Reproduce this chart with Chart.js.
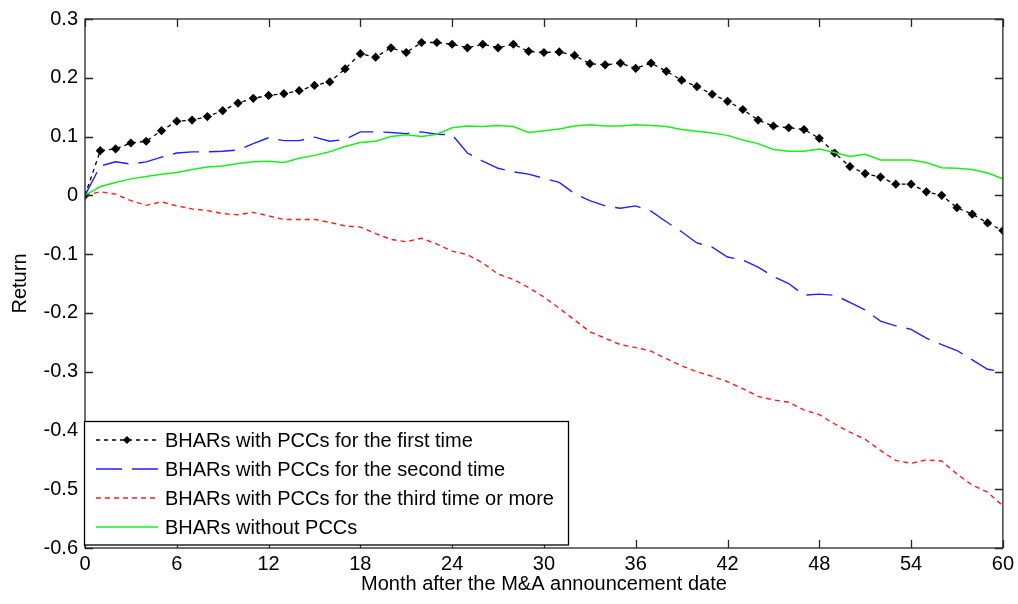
<!DOCTYPE html>
<html>
<head>
<meta charset="utf-8">
<script src="https://cdn.jsdelivr.net/npm/chart.js@4.4.1/dist/chart.umd.min.js"></script>
<style>
html,body{margin:0;padding:0;background:#fff;}
#wrap{width:1018px;height:604px;}
</style>
</head>
<body>
<div id="wrap"><canvas id="c" width="1018" height="604"></canvas></div>
<script>
const months = Array.from({length: 61}, (_, i) => i);
const xTicks = [0, 6, 12, 18, 24, 30, 36, 42, 48, 54, 60];
const yTicks = [0.3, 0.2, 0.1, 0, -0.1, -0.2, -0.3, -0.4, -0.5, -0.6];

const seriesNames = [
  "BHARs with PCCs for the first time",
  "BHARs with PCCs for the second time",
  "BHARs with PCCs for the third time or more",
  "BHARs without PCCs"
];

const firstTime = [0, 0.076, 0.079, 0.089, 0.092, 0.110, 0.126, 0.128, 0.134, 0.144, 0.157,
  0.165, 0.170, 0.173, 0.178, 0.187, 0.193, 0.215, 0.241, 0.235, 0.251,
  0.243, 0.260, 0.260, 0.257, 0.251, 0.257, 0.251, 0.257, 0.245, 0.243,
  0.244, 0.238, 0.224, 0.222, 0.225, 0.216, 0.225, 0.211, 0.196, 0.185,
  0.172, 0.160, 0.146, 0.128, 0.118, 0.115, 0.112, 0.097, 0.072, 0.049,
  0.037, 0.031, 0.019, 0.019, 0.006, 0.000, -0.021, -0.032, -0.047, -0.060];

const secondTime = [0, 0.050, 0.057, 0.053, 0.057, 0.065, 0.072, 0.074, 0.074, 0.075, 0.077,
  0.088, 0.098, 0.093, 0.093, 0.099, 0.092, 0.095, 0.108, 0.108, 0.107,
  0.105, 0.108, 0.104, 0.103, 0.072, 0.058, 0.046, 0.040, 0.036, 0.029,
  0.022, 0.003, -0.009, -0.018, -0.022, -0.018, -0.027, -0.045, -0.062, -0.081,
  -0.088, -0.105, -0.110, -0.122, -0.138, -0.150, -0.170, -0.168, -0.170, -0.182,
  -0.195, -0.214, -0.222, -0.228, -0.243, -0.254, -0.264, -0.280, -0.296, -0.300];

const thirdTime = [0, 0.006, 0.002, -0.009, -0.017, -0.011, -0.018, -0.023, -0.026, -0.031, -0.033,
  -0.029, -0.035, -0.041, -0.041, -0.041, -0.046, -0.052, -0.054, -0.065, -0.075,
  -0.079, -0.073, -0.083, -0.095, -0.101, -0.115, -0.134, -0.143, -0.157, -0.173,
  -0.192, -0.212, -0.232, -0.243, -0.254, -0.259, -0.265, -0.278, -0.290, -0.300,
  -0.308, -0.317, -0.329, -0.342, -0.348, -0.352, -0.365, -0.373, -0.389, -0.403,
  -0.415, -0.434, -0.451, -0.456, -0.450, -0.452, -0.474, -0.493, -0.505, -0.528];

const withoutPCC = [0, 0.015, 0.022, 0.028, 0.032, 0.036, 0.039, 0.044, 0.048, 0.050, 0.054,
  0.057, 0.058, 0.056, 0.063, 0.068, 0.074, 0.083, 0.090, 0.092, 0.100,
  0.103, 0.100, 0.104, 0.115, 0.118, 0.117, 0.119, 0.117, 0.107, 0.110,
  0.113, 0.118, 0.120, 0.118, 0.118, 0.120, 0.119, 0.117, 0.112, 0.109,
  0.106, 0.102, 0.094, 0.088, 0.078, 0.075, 0.075, 0.079, 0.073, 0.066,
  0.070, 0.060, 0.060, 0.060, 0.056, 0.047, 0.046, 0.044, 0.038, 0.028];

const FONT = "'Liberation Sans', Arial, sans-serif";
const toPts = arr => months.map((m, i) => ({x: m, y: arr[i]}));

const styles = [
  {color: '#000000', dash: [4, 4], width: 1.3, marker: true},
  {color: '#1f1fff', dash: [26, 10], width: 1.4, marker: false},
  {color: '#ff1a1a', dash: [5, 4], width: 1.4, marker: false},
  {color: '#19f019', dash: [], width: 1.5, marker: false}
];
const seriesData = [firstTime, secondTime, thirdTime, withoutPCC];

const datasets = seriesData.map((arr, k) => ({
  label: seriesNames[k],
  data: toPts(arr),
  borderColor: styles[k].color,
  backgroundColor: styles[k].color,
  borderWidth: styles[k].width,
  borderDash: styles[k].dash,
  pointStyle: 'rectRot',
  pointRadius: styles[k].marker ? 4.6 : 0,
  pointBorderWidth: 0,
  pointBackgroundColor: styles[k].color,
  tension: 0,
  fill: false,
  order: 4 - k
}));

const framePlugin = {
  id: 'frame',
  afterDraw(chart) {
    const ctx = chart.ctx;
    const a = chart.chartArea;
    const xs = chart.scales.x, ys = chart.scales.y;
    ctx.save();
    ctx.strokeStyle = '#262626';
    ctx.lineWidth = 1.3;
    ctx.setLineDash([]);
    ctx.strokeRect(a.left, a.top, a.right - a.left, a.bottom - a.top);
    const L = 8;
    ctx.beginPath();
    xTicks.forEach(v => {
      const px = Math.round(xs.getPixelForValue(v)) + 0.5;
      ctx.moveTo(px, a.bottom); ctx.lineTo(px, a.bottom - L);
      ctx.moveTo(px, a.top); ctx.lineTo(px, a.top + L);
    });
    yTicks.forEach(v => {
      const py = Math.round(ys.getPixelForValue(v)) + 0.5;
      ctx.moveTo(a.left, py); ctx.lineTo(a.left + L, py);
      ctx.moveTo(a.right, py); ctx.lineTo(a.right - L, py);
    });
    ctx.stroke();

    // legend box in lower-left of plot
    const bx = a.left - 0.5, by = 421.5, bw = 484, bh = 123.5;
    ctx.fillStyle = '#ffffff';
    ctx.fillRect(bx, by, bw, bh);
    ctx.strokeStyle = '#000000';
    ctx.lineWidth = 1.3;
    ctx.strokeRect(bx, by, bw, bh);
    const rowY = [440, 469, 498, 527];
    const x0 = 96, x1 = 158;
    ctx.font = '20px ' + FONT;
    ctx.textBaseline = 'middle';
    ctx.textAlign = 'left';
    seriesNames.forEach((name, k) => {
      const st = styles[k];
      ctx.beginPath();
      ctx.strokeStyle = st.color;
      ctx.lineWidth = st.width;
      ctx.setLineDash(st.dash);
      ctx.moveTo(x0, rowY[k]); ctx.lineTo(x1, rowY[k]);
      ctx.stroke();
      ctx.setLineDash([]);
      if (st.marker) {
        const cx = (x0 + x1) / 2, cy = rowY[k], r = 4;
        ctx.beginPath();
        ctx.fillStyle = st.color;
        ctx.moveTo(cx, cy - r); ctx.lineTo(cx + r, cy); ctx.lineTo(cx, cy + r); ctx.lineTo(cx - r, cy);
        ctx.closePath(); ctx.fill();
      }
      ctx.fillStyle = '#000000';
      ctx.fillText(name, 165, rowY[k] + 1);
    });
    ctx.restore();
  }
};

new Chart(document.getElementById('c'), {
  type: 'line',
  data: {datasets},
  options: {
    responsive: false,
    animation: false,
    layout: {padding: {left: 0, right: 13, top: 14, bottom: 0}},
    plugins: {legend: {display: false}, tooltip: {enabled: false}},
    scales: {
      x: {
        type: 'linear', min: 0, max: 60,
        afterBuildTicks: s => { s.ticks = xTicks.map(v => ({value: v})); },
        afterFit: s => { s.height = 56; },
        grid: {display: false, drawTicks: false},
        border: {display: false},
        ticks: {color: '#000', font: {size: 20, family: FONT}, padding: 4, maxRotation: 0, autoSkip: false,
                callback: v => String(v)},
        title: {display: true, text: 'Month after the M&A announcement date', color: '#000',
                font: {size: 20, family: FONT}, padding: {top: 0, bottom: 8}}
      },
      y: {
        type: 'linear', min: -0.6, max: 0.3,
        afterBuildTicks: s => { s.ticks = yTicks.map(v => ({value: v})); },
        afterFit: s => { s.width = 85; },
        grid: {display: false, drawTicks: false},
        border: {display: false},
        ticks: {color: '#000', font: {size: 20, family: FONT}, padding: 7, autoSkip: false,
                callback: v => String(Number(v.toFixed(1)))},
        title: {display: true, text: 'Return', color: '#000',
                font: {size: 20, family: FONT}, padding: {top: 8, bottom: 0}}
      }
    }
  },
  plugins: [framePlugin]
});
</script>
</body>
</html>
